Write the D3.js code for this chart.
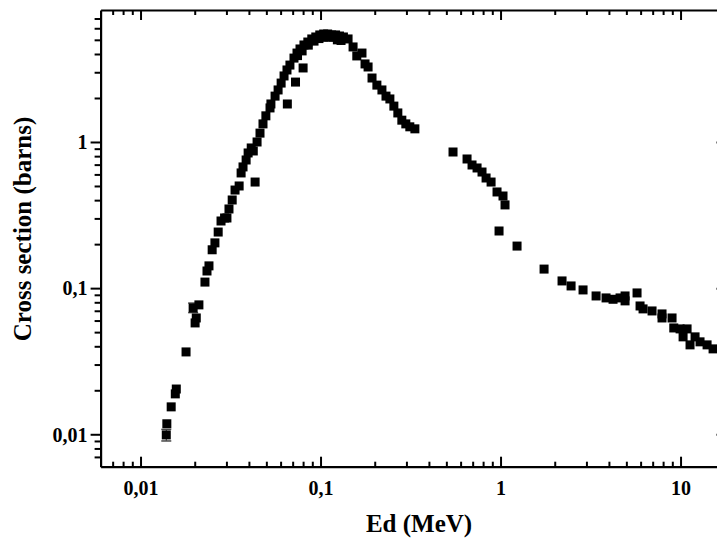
<!DOCTYPE html>
<html>
<head>
<meta charset="utf-8">
<script src="https://cdn.jsdelivr.net/npm/d3@7"></script>
<style>
  html, body { margin: 0; padding: 0; background: #fff; }
  svg { display: block; }
  text { font-family: "Liberation Serif", "Times New Roman", serif; font-weight: bold; fill: #000; }
</style>
</head>
<body>
<svg id="chart" width="717" height="539"></svg>
<script>
// ---- data (deuteron energy in MeV, cross section in barns) ----
const energy = [
  0.0139, 0.0140, 0.0148, 0.0156, 0.0158, 0.0179, 0.0196, 0.0201, 0.0204, 0.0211,
  0.0228, 0.0234, 0.0240, 0.0250, 0.0259, 0.0270, 0.0280, 0.0293, 0.0302, 0.0310,
  0.0323, 0.0335, 0.0353, 0.0362, 0.0371, 0.0386, 0.0396, 0.0412, 0.0423, 0.0433,
  0.0444, 0.0461, 0.0479, 0.0497, 0.0524, 0.0530, 0.0559, 0.0581, 0.0604, 0.0627,
  0.0651, 0.0676, 0.0712, 0.0740, 0.0769, 0.0809, 0.0850, 0.0894, 0.0941, 0.0990,
  0.1041, 0.1095, 0.1152, 0.1212, 0.1274, 0.1340,
  0.0654, 0.0726, 0.0800, 0.0745, 0.0790, 0.0855, 0.0920, 0.0980, 0.1050, 0.1120,
  0.1180, 0.1240, 0.1300,
  0.1422, 0.1516, 0.1590, 0.1699, 0.1767, 0.1837, 0.1932, 0.2056, 0.2193, 0.2310,
  0.2428, 0.2555, 0.2688, 0.2829, 0.2977, 0.3133, 0.3343,
  0.5445, 0.6515, 0.6944, 0.7405, 0.7890, 0.8310, 0.8860, 0.9560, 1.032, 1.059,
  0.981, 1.235, 1.745, 2.196, 2.465, 2.873, 3.394, 3.856, 4.217, 4.612,
  4.918, 4.918, 5.732, 5.957, 6.190, 6.945, 7.890, 7.890, 8.970, 9.170,
  9.940, 10.33, 10.87, 11.29, 12.04, 12.83, 14.04, 15.16
];
const sigma = [
  0.0099, 0.0118, 0.0154, 0.0189, 0.0204, 0.0366, 0.0732, 0.0578, 0.0625, 0.0768,
  0.110, 0.131, 0.142, 0.183, 0.204, 0.242, 0.288, 0.302, 0.302, 0.348,
  0.401, 0.469, 0.500, 0.614, 0.675, 0.753, 0.841, 0.910, 0.868, 0.532,
  1.00, 1.15, 1.33, 1.51, 1.71, 1.82, 2.06, 2.27, 2.53, 2.83,
  3.11, 3.36, 3.75, 4.06, 4.33, 4.61, 4.83, 5.07, 5.23, 5.40,
  5.48, 5.48, 5.40, 5.40, 5.31, 5.23,
  1.82, 2.57, 3.21, 3.90, 4.20, 4.60, 4.90, 5.10, 5.20, 5.25,
  5.20, 5.00, 4.95,
  5.07, 4.47, 3.88, 4.06, 3.42, 3.26, 2.74, 2.45, 2.27, 2.06,
  1.97, 1.76, 1.58, 1.41, 1.33, 1.27, 1.23,
  0.854, 0.765, 0.696, 0.664, 0.623, 0.567, 0.532, 0.455, 0.427, 0.371,
  0.246, 0.194, 0.135, 0.112, 0.1035, 0.0972, 0.0884, 0.0857, 0.0839, 0.0857,
  0.0884, 0.0818, 0.0927, 0.0755, 0.0721, 0.0698, 0.0666, 0.0625, 0.0625, 0.0534,
  0.0526, 0.0464, 0.0526, 0.0409, 0.0464, 0.0429, 0.0409, 0.0384
];
// error bars (energy, lower, upper)
const errEnergy = [0.0139, 0.0196];
const errLow    = [0.0090, 0.0680];
const errHigh   = [0.0108, 0.0790];

// axes
const xDomain = [0.006, 18];
const yDomain = [0.006, 8];
const xMajor = [0.01, 0.1, 1, 10];
const xLabels = ["0,01", "0,1", "1", "10"];
const yMajor = [0.01, 0.1, 1];
const yLabels = ["0,01", "0,1", "1"];
const xTitle = "Ed (MeV)";
const yTitle = "Cross section (barns)";

(function () {
  // ---- layout ----
  const pL = 100.6, pR = 726.5, pT = 10, pB = 466.7;
  const svg = d3.select("#chart");

  const x = d3.scaleLog().domain(xDomain).range([pL, pR]);
  const y = d3.scaleLog().domain(yDomain).range([pB, pT]);

  function minorTicks(domain) {
    const out = [];
    for (let e = -4; e <= 3; e++) {
      for (let m = 2; m <= 9; m++) {
        const v = m * Math.pow(10, e);
        if (v > domain[0] * 1.0001 && v < domain[1] * 0.9999) out.push(+v.toPrecision(3));
      }
    }
    return out;
  }
  const xMinor = minorTicks(xDomain);
  const yMinor = minorTicks(yDomain);

  function styleAxis(g) {
    g.selectAll("path.domain").attr("stroke", "#000").attr("stroke-width", 2.2);
    g.selectAll(".tick line").attr("stroke", "#000").attr("stroke-width", 2);
  }

  // error bars
  const eg = svg.append("g");
  errEnergy.forEach((e, i) => {
    const cx = x(e);
    eg.append("line").attr("x1", cx).attr("x2", cx).attr("y1", y(errLow[i])).attr("y2", y(errHigh[i]))
      .attr("stroke", "#333").attr("stroke-width", 1);
    [errLow[i], errHigh[i]].forEach(v => {
      eg.append("line").attr("x1", cx - 5).attr("x2", cx + 5).attr("y1", y(v)).attr("y2", y(v))
        .attr("stroke", "#444").attr("stroke-width", 1.5);
    });
  });
  // markers
  const ms = 9;
  svg.append("g").selectAll("rect").data(energy.map((e, i) => [e, sigma[i]])).join("rect")
    .attr("x", d => x(d[0]) - ms / 2)
    .attr("y", d => y(d[1]) - ms / 2)
    .attr("width", ms).attr("height", ms)
    .attr("fill", "#000");

  const tickFont = 20;

  // bottom axis
  const gb = svg.append("g").attr("transform", `translate(0,${pB})`);
  gb.call(d3.axisBottom(x).tickValues(xMajor).tickSize(-10).tickSizeOuter(0)
    .tickFormat((d, i) => xLabels[i]));
  gb.selectAll(".tick text").attr("y", 28.5).attr("dy", 0).attr("font-size", tickFont)
    .style("font-family", '"Liberation Serif", serif').style("font-weight", "bold");
  styleAxis(gb);
  const gbm = svg.append("g").attr("transform", `translate(0,${pB})`);
  gbm.call(d3.axisBottom(x).tickValues(xMinor).tickSize(-5).tickSizeOuter(0).tickFormat(""));
  gbm.select("path.domain").remove();
  styleAxis(gbm);

  // top axis
  const gt = svg.append("g").attr("transform", `translate(0,${pT})`);
  gt.call(d3.axisTop(x).tickValues(xMajor).tickSize(-10).tickSizeOuter(0).tickFormat(""));
  styleAxis(gt);
  const gtm = svg.append("g").attr("transform", `translate(0,${pT})`);
  gtm.call(d3.axisTop(x).tickValues(xMinor).tickSize(-5).tickSizeOuter(0).tickFormat(""));
  gtm.select("path.domain").remove();
  styleAxis(gtm);

  // left axis (ticks outward)
  const gl = svg.append("g").attr("transform", `translate(${pL},0)`);
  gl.call(d3.axisLeft(y).tickValues(yMajor).tickSize(10).tickSizeOuter(0).tickPadding(3)
    .tickFormat((d, i) => yLabels[i]));
  gl.selectAll(".tick text").attr("font-size", tickFont).attr("dy", "0.34em")
    .style("font-family", '"Liberation Serif", serif').style("font-weight", "bold");
  styleAxis(gl);
  const glm = svg.append("g").attr("transform", `translate(${pL},0)`);
  glm.call(d3.axisLeft(y).tickValues(yMinor).tickSize(6).tickSizeOuter(0).tickFormat(""));
  glm.select("path.domain").remove();
  styleAxis(glm);

  // right axis (ticks inward)
  const gr = svg.append("g").attr("transform", `translate(${pR},0)`);
  gr.call(d3.axisRight(y).tickValues(yMajor).tickSize(-10).tickSizeOuter(0).tickFormat(""));
  styleAxis(gr);
  const grm = svg.append("g").attr("transform", `translate(${pR},0)`);
  grm.call(d3.axisRight(y).tickValues(yMinor).tickSize(-5).tickSizeOuter(0).tickFormat(""));
  grm.select("path.domain").remove();
  styleAxis(grm);

  // titles
  svg.append("text").attr("x", 419).attr("y", 532)
    .attr("text-anchor", "middle").attr("font-size", 25).text(xTitle);
  svg.append("text").attr("transform", `translate(31,229) rotate(-90)`)
    .attr("text-anchor", "middle").attr("font-size", 25).text(yTitle);
})();
</script>
</body>
</html>
